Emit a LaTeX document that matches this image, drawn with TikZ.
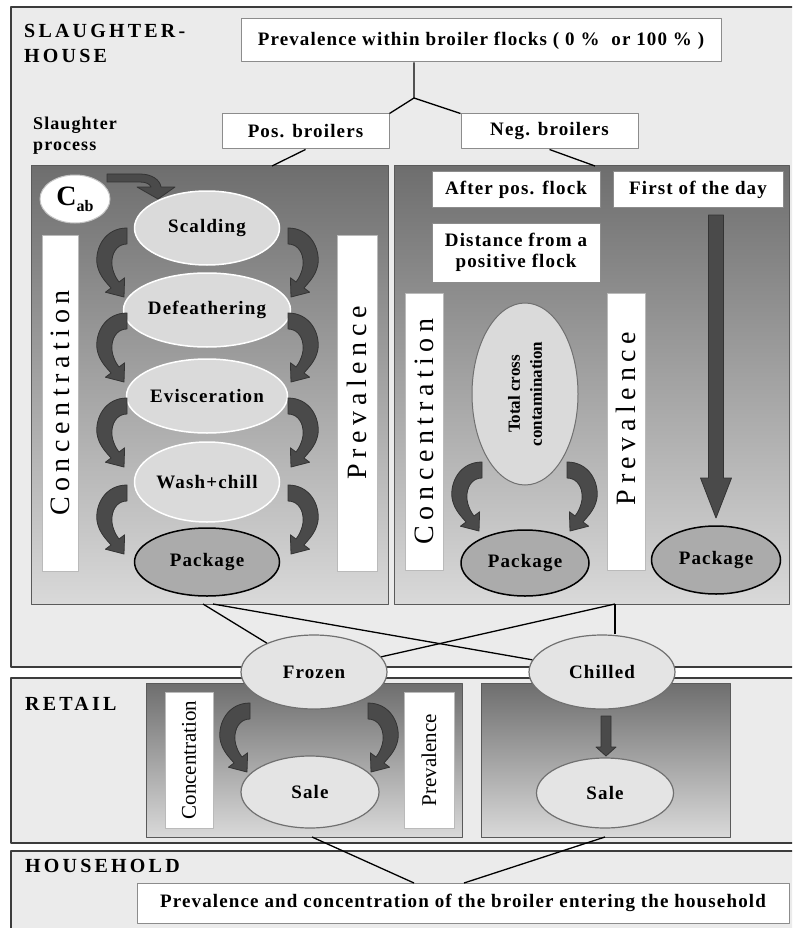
\documentclass[tikz,border=0pt]{standalone}
\usepackage{fontspec}
\setmainfont{Liberation Serif}
\newfontfamily\lblfont{Liberation Serif}[LetterSpace=6]
\newfontfamily\headfont{Liberation Serif}[LetterSpace=16]
\newfontfamily\spacedfont{Liberation Serif}[LetterSpace=20]
\usetikzlibrary{shapes.geometric}

\definecolor{framefill}{HTML}{EBEBEB}
\definecolor{frameline}{HTML}{3C3C3C}
\definecolor{boxline}{HTML}{8C8C8C}
\definecolor{panelline}{HTML}{5A5A5A}
\definecolor{paneltop}{HTML}{6E6E6E}
\definecolor{panelbot}{HTML}{D9D9D9}
\definecolor{stagefill}{HTML}{DADADA}
\definecolor{packfill}{HTML}{ABABAB}
\definecolor{flowfill}{HTML}{E4E4E4}
\definecolor{flowline}{HTML}{707070}
\definecolor{arrowfill}{HTML}{4A4A4A}

\tikzset{
  bendarrow/.pic={
    \filldraw[arrowpath] (0,0) .. controls (-22,0) and (-32,20) .. (-30,36)
      .. controls (-28,48) and (-20,55) .. (-16,60) -- (-21.6,64.2) -- (-3,69)
      -- (-2.4,49.8) -- (-8,54) .. controls (-12,49) and (-16,40) .. (-15,32)
      .. controls (-14,22) and (-8,16) .. (0,16) -- cycle;
  }
}

\begin{document}
\begin{tikzpicture}[x=1pt,y=-1pt,line join=round,
    lbl/.style={font=\lblfont\bfseries\fontsize{19}{21}\selectfont},
    head/.style={font=\headfont\bfseries\fontsize{20}{25}\selectfont,inner sep=0pt},
    frame/.style={draw=frameline,line width=1.5pt,fill=framefill},
    panel/.style={draw=panelline,line width=1pt,top color=paneltop,bottom color=panelbot,inner sep=0pt},
    whitebox/.style={draw=boxline,fill=white,line width=1pt,inner sep=0pt,lbl},
    bar/.style={draw=boxline!60,fill=white,line width=1pt,inner sep=0pt,rotate=90,
      font=\spacedfont\fontsize{28}{30}\selectfont},
    smallbar/.style={bar,font=\fontsize{21}{23}\selectfont},
    stage/.style={ellipse,draw=white,line width=1.5pt,fill=stagefill,inner sep=0pt,
      minimum width=145pt,minimum height=74pt,lbl},
    pack/.style={ellipse,draw=black,line width=1.5pt,fill=packfill,inner sep=0pt,
      minimum width=145pt,minimum height=68pt,lbl},
    flow/.style={ellipse,draw=flowline,line width=1.2pt,fill=flowfill,inner sep=0pt,
      minimum width=146pt,minimum height=74pt,lbl},
    conn/.style={draw=black,line width=1.3pt},
    arrowpath/.style={fill=arrowfill,draw=black!80,line width=0.8pt}]
\useasboundingbox (0,0) rectangle (792,928);
\clip (0,0) rectangle (792,928);
\fill[white] (0,0) rectangle (792,928);

% frames
\draw[frame] (11,7) rectangle (800,667);
\draw[frame] (11,678) rectangle (800,843);
\draw[frame] (11,851) rectangle (800,935);

\node[head,anchor=base west] at (24,38) {SLAUGHTER-};
\node[head,anchor=base west] at (24,63) {HOUSE};
\node[head,anchor=base west] at (25,710) {RETAIL};
\node[head,anchor=base west] at (25,872) {HOUSEHOLD};
\node[lbl,font=\lblfont\bfseries\fontsize{18}{21}\selectfont,anchor=base west,inner sep=0pt] at (33,130) {Slaughter};
\node[lbl,font=\lblfont\bfseries\fontsize{18}{21}\selectfont,anchor=base west,inner sep=0pt] at (33,151) {process};

% flocks
\node[whitebox,minimum width=480pt,minimum height=43pt] (prev) at (481,40.5) {Prevalence within broiler flocks ( 0 \%\ \ or 100 \% )};
\coordinate (split) at (414,98);
\node[whitebox,minimum width=167pt,minimum height=35pt] (pos) at (305.5,131.5) {Pos. broilers};
\node[whitebox,minimum width=177pt,minimum height=35pt] (neg) at (549.5,131.5) {Neg. broilers};
\draw[conn] (split |- prev.south) -- (split) -- (pos.north east);
\draw[conn] (split) -- (neg.north west);

% slaughter panels
\node[panel,minimum width=357pt,minimum height=438pt] (lpan) at (209.5,385) {};
\node[panel,minimum width=395pt,minimum height=438pt] (rpan) at (591.5,385) {};
\coordinate (lpin) at (272,166);
\coordinate (rpin) at (595,166);
\draw[conn] (pos.south) -- (lpin);
\draw[conn] (neg.south) -- (rpin);

% positive flock
\node[bar,minimum width=336pt,minimum height=36pt] (lconc) at (60,403) {Concentration};
\node[bar,minimum width=336pt,minimum height=40pt] (lprev) at (357,403) {\hspace{20pt}Prevalence};
\node[ellipse,draw=boxline!50,fill=white,line width=1pt,inner sep=0pt,
  minimum width=70pt,minimum height=48pt,font=\bfseries] (cab) at (75,199)
  {{\fontsize{28}{30}\selectfont C}\raisebox{-6pt}{\fontsize{16}{18}\selectfont ab}};
\filldraw[arrowpath] (107,174) -- (140,174) .. controls (152,174) and (160,180) .. (161,187)
  -- (175,187) -- (158,199) -- (137,187) -- (151,187)
  .. controls (150,184) and (146,182) .. (140,182) -- (107,182) -- cycle;
\node[stage] (scald) at (207,228) {Scalding};
\node[stage] (defeath) at (207,310) {Defeathering};
\node[stage] (evisc) at (207,396) {Evisceration};
\node[stage,minimum height=80pt] (wash) at (207,482) {Wash+chill};
\node[pack] (packA) at (207,562) {Package};
\foreach \y in {228,313,398,485}{
  \pic at (127,\y) {bendarrow};
  \pic[xscale=-1] at (288,\y) {bendarrow};
}

% negative flock
\node[whitebox,minimum width=168pt,minimum height=35pt] (after) at (516,189.5) {After pos. flock};
\node[whitebox,minimum width=170pt,minimum height=35pt] (first) at (698,189.5) {First of the day};
\node[whitebox,minimum width=168pt,minimum height=59pt,align=center] (dist) at (516,252.5) {Distance from a\\positive flock};
\node[bar,minimum width=277pt,minimum height=38pt] (rconc) at (424,431.5) {Concentration};
\node[bar,minimum width=277pt,minimum height=38pt] (rprev) at (626,431.5) {\hspace{26pt}Prevalence};
\node[ellipse,draw=flowline,line width=1pt,fill=stagefill,inner sep=0pt,rotate=90,
  minimum width=182pt,minimum height=106pt,align=center,
  font=\bfseries\fontsize{17}{22}\selectfont] (cross) at (525,394) {Total cross\\contamination};
\node[pack,minimum width=128pt,minimum height=66pt] (packB) at (525,563) {Package};
\node[pack,minimum width=129pt,minimum height=68pt] (packC) at (716,560) {Package};
\pic at (482,462) {bendarrow};
\pic[xscale=-1] at (567,462) {bendarrow};
\filldraw[arrowpath] (708.5,215) -- (723.5,215) -- (723.5,478) -- (731.5,478) -- (716,518)
  -- (700.5,478) -- (708.5,478) -- cycle;

% retail
\node[panel,minimum width=316pt,minimum height=154pt] (rsubA) at (304,760) {};
\node[panel,minimum width=249pt,minimum height=154pt] (rsubB) at (605.5,760) {};
\node[flow] (frozen) at (314,672) {Frozen};
\node[flow] (chilled) at (602,672) {Chilled};
\coordinate (lpoutA) at (203,604);
\coordinate (lpoutB) at (213,604);
\coordinate (rpout) at (615,604);
\draw[conn] (lpoutA) -- (frozen);
\draw[conn] (lpoutB) -- (chilled);
\draw[conn] (rpout) -- (frozen);
\draw[conn] (rpout) -- (rpout |- chilled.north);

\node[smallbar,minimum width=136pt,minimum height=48pt] (sconc) at (189,760) {Concentration};
\node[smallbar,minimum width=136pt,minimum height=50pt] (sprev) at (429,760) {Prevalence};
\node[flow,minimum width=138pt,minimum height=72pt] (saleA) at (310,792) {Sale};
\node[flow,minimum width=137pt,minimum height=70pt] (saleB) at (605,793) {Sale};
\pic at (250,703) {bendarrow};
\pic[xscale=-1] at (368,703) {bendarrow};
\filldraw[arrowpath] (601,716) -- (611,716) -- (611,747) -- (616,747) -- (606,756)
  -- (596,747) -- (601,747) -- cycle;

% household
\node[whitebox,minimum width=652pt,minimum height=40pt] (hh) at (463,903) {Prevalence and concentration of the broiler entering the household};
\coordinate (saleAout) at (312,837);
\coordinate (saleBout) at (605,837);
\coordinate (hhA) at (414,883);
\coordinate (hhB) at (464,883);
\draw[conn] (saleAout) -- (hhA);
\draw[conn] (saleBout) -- (hhB);
\end{tikzpicture}
\end{document}
